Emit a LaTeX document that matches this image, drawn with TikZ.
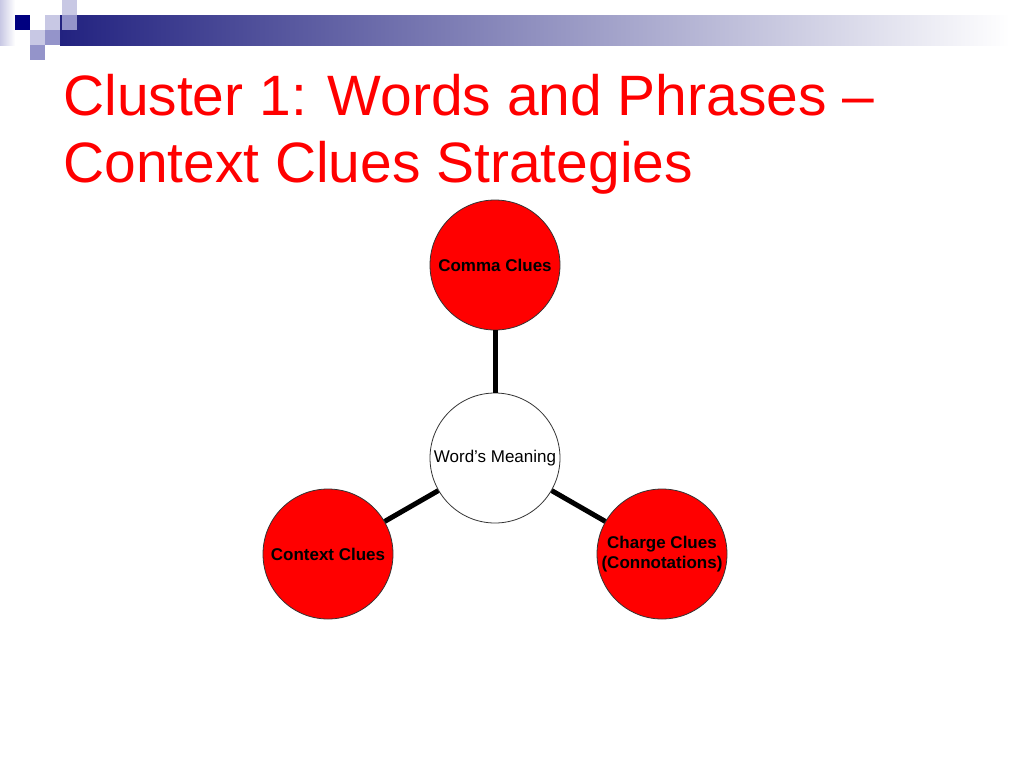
\documentclass[tikz,border=0pt]{standalone}
\usepackage{fontspec}
\setmainfont{Liberation Sans}
\definecolor{navy}{HTML}{000080}
\definecolor{lightsq}{HTML}{C8C8E4}
\definecolor{midsq}{HTML}{9494CA}
\definecolor{barblue}{HTML}{222280}
\begin{document}
\begin{tikzpicture}[x=0.75pt,y=-0.75pt,
  bubble/.style={circle,draw=black!80,line width=0.6pt,fill=red,
    minimum size=97.5pt,inner sep=0pt,align=center,
    font=\fontsize{12.75}{15}\selectfont\bfseries},
  hub/.style={bubble,fill=white,font=\fontsize{12.75}{15}\selectfont},
  link/.style={line width=3.75pt,black},
  title/.style={anchor=base west,inner sep=0pt,text=red,
    font=\fontsize{42.7}{50}\selectfont}]
  \useasboundingbox (0,0) rectangle (1024,768);

  % corner squares and bar
  \shade[left color=barblue,right color=white] (60,15) rectangle (1010,45);
  \shade[left color=lightsq,right color=white] (0,0) rectangle (15,45);
  \fill[navy] (15,15) rectangle (30,30);
  \fill[lightsq] (45,15) rectangle (60,30);
  \fill[lightsq] (62,0) rectangle (77,15);
  \fill[midsq] (62,15) rectangle (77,30);
  \fill[lightsq] (30,30) rectangle (45,45);
  \fill[midsq] (45,30) rectangle (60,45);
  \fill[midsq] (30,45) rectangle (45,60);

  \node[title] (title1) at (63,115) {Cluster 1: Words and Phrases --};
  \node[title] (title2) at (63,182) {Context Clues Strategies};

  \node[hub] (meaning) at (495,458) {Word’s Meaning};
  \node[bubble] (comma) at (495,265) {Comma Clues};
  \node[bubble] (context) at (328,554) {Context Clues};
  \node[bubble] (charge) at (662,554) {Charge Clues\\(Connotations)};

  \draw[link] (comma) -- (meaning);
  \draw[link] (meaning) -- (context);
  \draw[link] (meaning) -- (charge);
\end{tikzpicture}
\end{document}
